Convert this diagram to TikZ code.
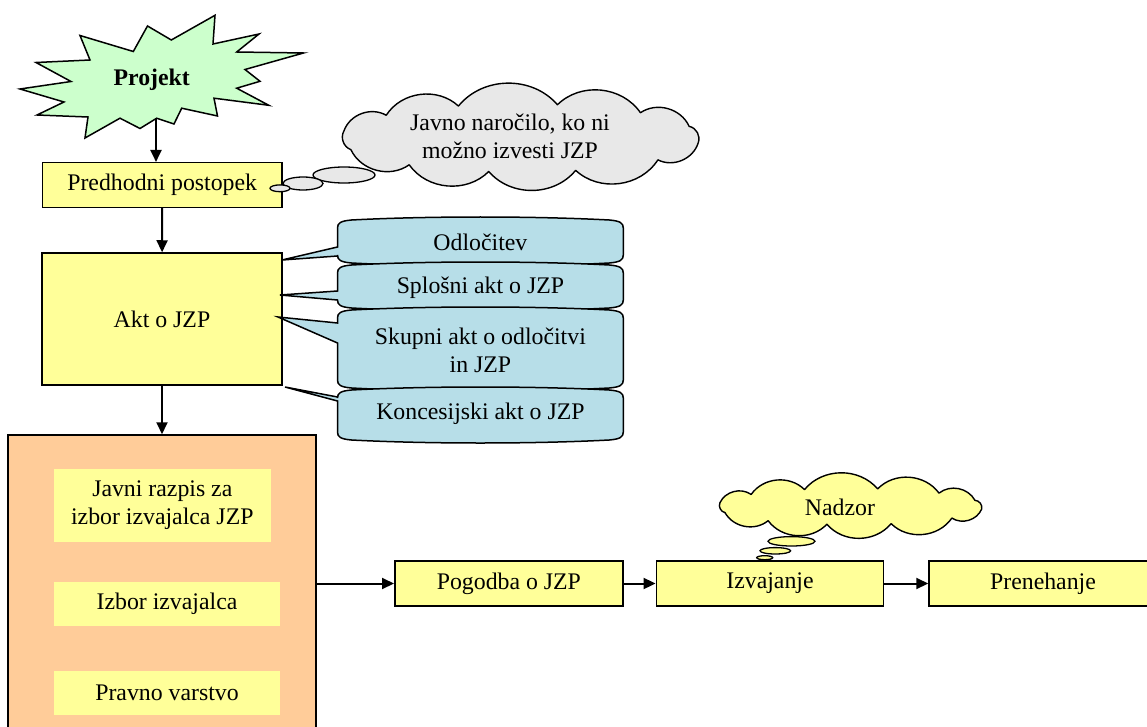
\documentclass[tikz,border=0pt]{standalone}
\usepackage{fontspec}
\setmainfont{Liberation Serif}
\usetikzlibrary{arrows.meta,calc}

\definecolor{boxyellow}{RGB}{255,255,153}
\definecolor{peach}{RGB}{255,204,153}
\definecolor{mint}{RGB}{204,255,204}
\definecolor{callblue}{RGB}{183,222,232}
\definecolor{cloudgrey}{RGB}{232,232,232}

\tikzset{
  txt/.style={font=\fontsize{23.8}{28}\selectfont},
  stagebox/.style={draw, line width=1.5pt, fill=boxyellow, inner sep=0pt, txt},
  substep/.style={fill=boxyellow, inner sep=0pt, align=center, txt},
  flow/.style={line width=2pt, -{Triangle[length=12pt,width=11pt]}},
  calloutshape/.style={draw, line width=1.5pt, fill=callblue},
  thought/.style={draw, line width=1.4pt, line join=round},
  bubble/.style={draw, line width=1.3pt},
  burst/.style={draw, line width=1.5pt, fill=mint, line join=miter}
}

% callout: box x1 y1 x2 y2, pointer tip (tx,ty), pointer base y b1..b2 on the left side
\newcommand\calloutpath[8]{%
  \draw[calloutshape] (#1,#7) -- (#5,#6) -- (#1,#8) -- (#1,{#4-7})
   .. controls (#1,{#4-2}) and ({#1+3},#4) .. ({#1+14},{#4+1})
   .. controls ({#1+90},{#4+5}) and ({#3-90},{#4+5}) .. ({#3-14},{#4+1})
   .. controls ({#3-3},#4) and (#3,{#4-2}) .. (#3,{#4-7})
   -- (#3,{#2+7})
   .. controls (#3,{#2+2}) and ({#3-3},#2) .. ({#3-14},{#2-1})
   .. controls ({#3-90},{#2-5}) and ({#1+90},{#2-5}) .. ({#1+14},{#2-1})
   .. controls ({#1+3},#2) and (#1,{#2+2}) .. (#1,{#2+7}) -- cycle;
}

% cloud outline: centre (#1,#2), inner radii #3,#4, puffs joined by arcs
\newcommand\cloudpath[5]{%
  \draw[thought, fill=#5] ({#1+#3*cos(8)},{#2+#4*sin(8)})
    \foreach \t in {40,72,100,128,160,192,222,250,282,312,340,368}
      { to[bend left=50] ({#1+#3*cos(\t)},{#2+#4*sin(\t)}) } -- cycle;
}

\begin{document}
\begin{tikzpicture}[x=1pt, y=-1pt]
\useasboundingbox (0,0) rectangle (1147,727);

% starting point: the project burst
\draw[burst] (20,89) -- (71,81.5) -- (36,62.5) -- (90,60) -- (80,35.5)
  -- (133.3,51.5) -- (147.5,26) -- (171.3,40) -- (215,15.3) -- (213,44)
  -- (259,34) -- (236.7,52) -- (303.5,53) -- (245,69.5) -- (260,81.3)
  -- (236.7,88.2) -- (268.8,105.3) -- (214,98.2) -- (217.5,116) -- (181.7,108.2)
  -- (174,124) -- (156.7,118.2) -- (140,128.5) -- (120,118.2) -- (85,138)
  -- (88,117) -- (37,115) -- (64,102) -- cycle;
\node[txt] (projekt) at (151.7,79.7) {\bfseries Projekt};

% main stages
\node[stagebox, minimum width=239.7pt, minimum height=44.6pt] (predhodni) at (162.2,185) {Predhodni postopek};
\node[stagebox, minimum width=240pt, minimum height=132pt] (akt) at (162,319) {Akt o JZP};

\node[draw, line width=1.5pt, fill=peach, minimum width=308pt, minimum height=310pt] (izbor) at (162,590) {};
\node[substep, minimum width=216.7pt, minimum height=72.7pt] (razpis) at (162.3,505.3) {Javni razpis za\\izbor izvajalca JZP};
\node[substep, minimum width=226pt, minimum height=43.7pt] (izbira) at (167,603.8) {Izbor izvajalca};
\node[substep, minimum width=226pt, minimum height=44pt] (varstvo) at (167,693) {Pravno varstvo};

\node[stagebox, minimum width=228.3pt, minimum height=45pt] (pogodba) at (508.9,583.5) {Pogodba o JZP};
\node[stagebox, minimum width=227.4pt, minimum height=45pt] (izvajanje) at (770,583.5) {Izvajanje};
\node[stagebox, minimum width=228pt, minimum height=45pt] (prenehanje) at (1043,583.5) {Prenehanje};

% flow arrows
\coordinate (starfoot) at (156,119);
\draw[flow] (starfoot) -- (starfoot |- predhodni.north);
\draw[flow] (predhodni) -- (akt);
\draw[flow] (akt) -- (izbor);
\draw[flow] (izbor.east |- pogodba) -- (pogodba.west);
\draw[flow] (pogodba) -- (izvajanje);
\draw[flow] (izvajanje) -- (prenehanje);

% kinds of the act
\calloutpath{337.5}{221}{623.3}{262}{282}{260}{247}{256}
\node[txt] (odlocitev) at (480.4,242) {Odločitev};
\calloutpath{337.5}{266}{623.3}{307}{280}{295}{291}{300}
\node[txt] (splosni) at (480.4,288) {Splošni akt o JZP};
\calloutpath{337.5}{311}{623.3}{387}{278}{317}{323}{343}
\node[txt, align=center] (skupni) at (480.4,350) {Skupni akt o odločitvi\\in JZP};
\calloutpath{337.5}{391}{623.3}{439}{285}{387}{397}{401}
\node[txt] (koncesijski) at (480.4,414) {Koncesijski akt o JZP};

% thought: public procurement
\cloudpath{520}{138}{180}{34}{cloudgrey}
\node[txt, align=center] (narocilo) at (510,136) {Javno naročilo, ko ni\\možno izvesti JZP};
\draw[bubble, fill=cloudgrey] (344,175) ellipse [x radius=31, y radius=8];
\draw[bubble, fill=cloudgrey] (303,183.5) ellipse [x radius=20, y radius=6.5];
\draw[bubble, fill=cloudgrey] (280,188.3) ellipse [x radius=10, y radius=3.4];

% thought: supervision
\cloudpath{850}{506.5}{133}{18}{boxyellow}
\node[txt] (nadzor) at (840,507) {Nadzor};
\draw[bubble, fill=boxyellow] (791.5,541.3) ellipse [x radius=23.5, y radius=4.7];
\draw[bubble, fill=boxyellow] (775.3,550.8) ellipse [x radius=15.3, y radius=3.2];
\draw[bubble, fill=boxyellow] (764.7,557.7) ellipse [x radius=8, y radius=2];
\end{tikzpicture}
\end{document}
